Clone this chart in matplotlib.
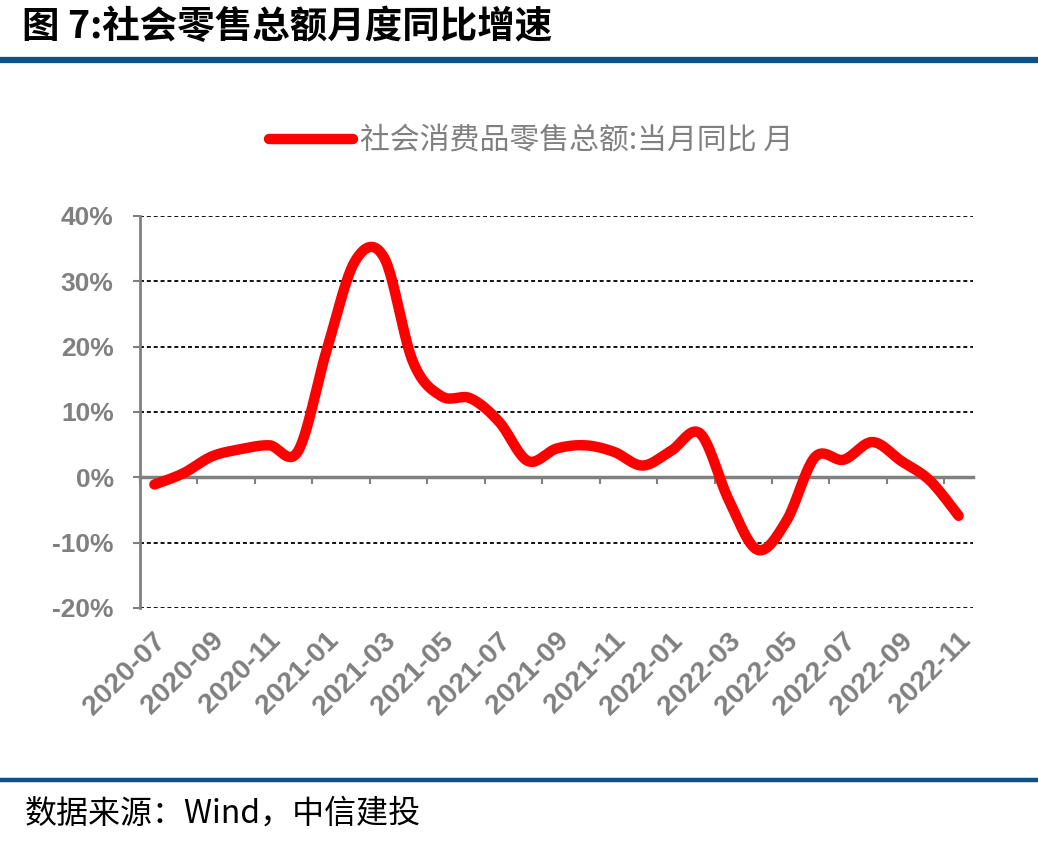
import matplotlib
matplotlib.use("Agg")
import matplotlib.pyplot as plt
import numpy as np
from matplotlib.lines import Line2D
from matplotlib.transforms import blended_transform_factory

plt.rcParams['font.family'] = ['Liberation Sans', 'Noto Sans CJK SC', 'DejaVu Sans']

# monthly data, 2020-07 .. 2022-11
months = ['2020-07', '2020-08', '2020-09', '2020-10', '2020-11', '2020-12',
          '2021-01', '2021-02', '2021-03', '2021-04', '2021-05', '2021-06',
          '2021-07', '2021-08', '2021-09', '2021-10', '2021-11', '2021-12',
          '2022-01', '2022-02', '2022-03', '2022-04', '2022-05', '2022-06',
          '2022-07', '2022-08', '2022-09', '2022-10', '2022-11']
retail_yoy = [-1.1, 0.6, 3.2, 4.3, 4.9, 4.0,
              19.5, 33.2, 33.6, 17.7, 12.4, 12.1,
              8.5, 2.5, 4.4, 4.9, 3.9, 1.8,
              4.1, 6.7, -3.5, -11.1, -6.7, 3.1,
              2.7, 5.4, 2.5, -0.5, -5.9]
yticks = [-20, -10, 0, 10, 20, 30, 40]

series_name = '社会消费品零售总额:当月同比 月'
title = '图 7:社会零售总额月度同比增速'
source = '数据来源：Wind，中信建投'

GRAY = '#808080'
BLUE = '#0d5186'


def smooth(x, y, n=24):
    # bezier smoothing similar to excel's smoothed line
    x = np.asarray(x, float)
    y = np.asarray(y, float)
    xs, ys = [], []
    N = len(x)
    for i in range(N - 1):
        i0 = max(i - 1, 0)
        i3 = min(i + 2, N - 1)
        p0 = np.array([x[i0], y[i0]])
        p1 = np.array([x[i], y[i]])
        p2 = np.array([x[i + 1], y[i + 1]])
        p3 = np.array([x[i3], y[i3]])
        c1 = p1 + (p2 - p0) / 6
        c2 = p2 - (p3 - p1) / 6
        t = np.linspace(0, 1, n, endpoint=(i == N - 2))[:, None]
        b = (1 - t) ** 3 * p1 + 3 * (1 - t) ** 2 * t * c1 + 3 * (1 - t) * t ** 2 * c2 + t ** 3 * p2
        xs.append(b[:, 0])
        ys.append(b[:, 1])
    return np.concatenate(xs), np.concatenate(ys)


fig = plt.figure(figsize=(10.38, 8.47), dpi=100)
ax = fig.add_axes([0.1349, 0.2822, 0.8025, 0.4628])

xi = np.arange(len(months))
sx, sy = smooth(xi, retail_yoy)
ax.plot(sx, sy, color='#ff0000', lw=7.5, solid_capstyle='round',
        solid_joinstyle='round', zorder=5, label=series_name)

ax.set_xlim(-0.5, len(months) - 0.5)
ax.set_ylim(-20, 40)

# grid
for v in yticks:
    if v != 0:
        ax.axhline(v, color='black', lw=1.3, ls=(0, (2.2, 1.6)), zorder=1)

ax.spines['top'].set_visible(False)
ax.spines['right'].set_visible(False)
ax.spines['left'].set_color(GRAY)
ax.spines['left'].set_linewidth(2)
ax.spines['bottom'].set_position(('data', 0))
ax.spines['bottom'].set_color(GRAY)
ax.spines['bottom'].set_linewidth(2.5)
ax.spines['bottom'].set_zorder(2)

ax.set_yticks(yticks)
ax.set_yticklabels([f'{v}%' for v in yticks])
ax.tick_params(axis='y', direction='out', length=5, width=1.5, color=GRAY,
               labelcolor=GRAY, labelsize=19, pad=14)
for lab in ax.get_yticklabels():
    lab.set_fontweight('bold')

ax.set_xticks(np.arange(-0.5, len(months), 2))
ax.set_xticklabels([])
ax.tick_params(axis='x', direction='out', length=5, width=1.5, color=GRAY)

trans = blended_transform_factory(ax.transData, ax.transAxes)
for i in range(0, len(months), 2):
    ax.text(i - 0.05, -0.05, months[i], transform=trans, rotation=45,
            rotation_mode='anchor', ha='right', va='top', fontsize=20.5,
            fontweight='bold', color=GRAY)

leg = fig.legend(handles=[Line2D([0], [0], color='#ff0000', lw=7.5, solid_capstyle='round')],
                 labels=[series_name], loc='center', bbox_to_anchor=(0.512, 0.8335),
                 frameon=False, handlelength=2.8, handletextpad=0.25,
                 prop={'family': 'Noto Sans CJK SC', 'size': 21.5})
for t in leg.get_texts():
    t.set_color(GRAY)

fig.text(0.021, 1 - 27 / 847, title, fontsize=27, fontweight='bold',
         family=['Noto Sans CJK SC', 'DejaVu Sans'], va='center', ha='left', color='black')
fig.add_artist(Line2D([0, 1], [1 - 60 / 847] * 2, color=BLUE, lw=4.5, transform=fig.transFigure))
fig.add_artist(Line2D([0, 1], [1 - 780 / 847] * 2, color=BLUE, lw=3.2, transform=fig.transFigure))
fig.text(0.024, 1 - 814 / 847, source, fontsize=23, style='italic',
         family=['Noto Sans CJK SC', 'DejaVu Sans'], va='center', ha='left', color='black')

fig.savefig('out.png', dpi=100)
